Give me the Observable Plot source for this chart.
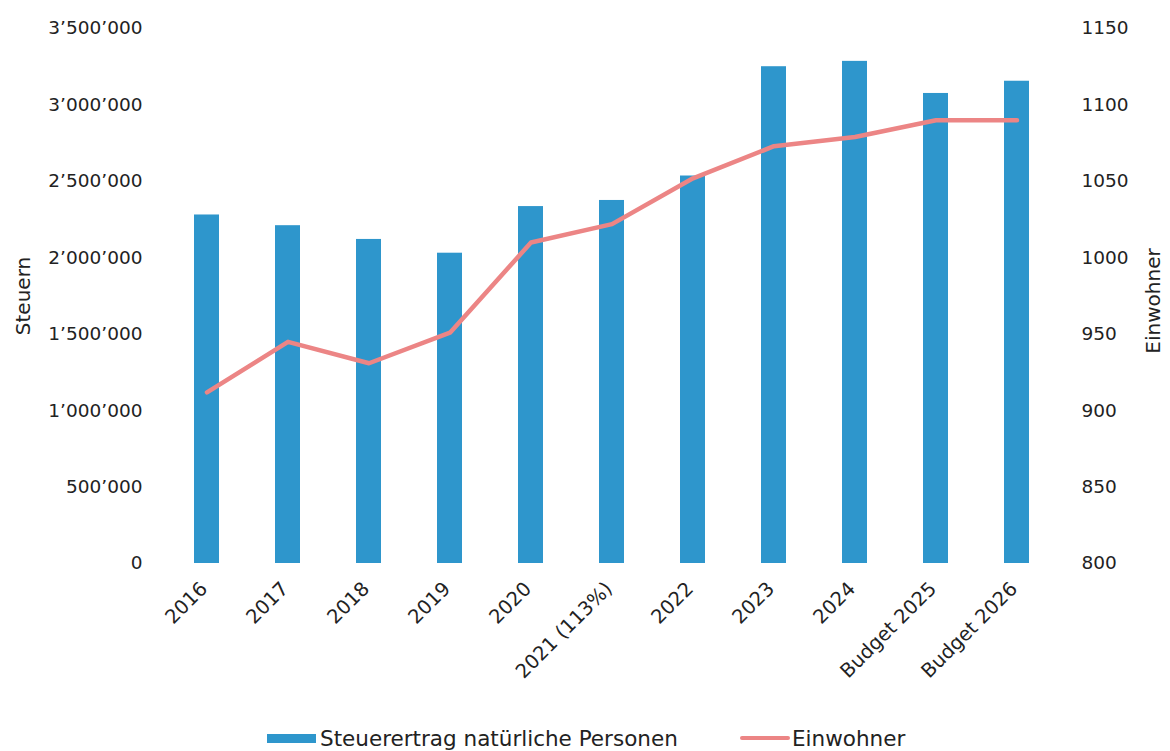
<!DOCTYPE html>
<html>
<head>
<meta charset="utf-8">
<script src="https://cdn.jsdelivr.net/npm/d3@7"></script>
<script src="https://cdn.jsdelivr.net/npm/@observablehq/plot@0.6"></script>
<style>
  html, body { margin: 0; padding: 0; background: #fff; }
  #wrap { position: relative; width: 1170px; height: 751px; font-family: "DejaVu Sans", sans-serif; color: #222; }
  .leg { position: absolute; top: 726px; display: flex; align-items: center; font-size: 21.5px; height: 24px; }
  .sw { display: inline-block; width: 49px; height: 9px; background: #2E96CC; margin-right: 4px; }
  .ln { display: inline-block; width: 50px; height: 4px; background: #EC8585; border-radius: 2px; margin-right: 2px; }
</style>
</head>
<body>
<div id="wrap">
  <div id="chart"></div>
  <div class="leg" style="left:267px"><span class="sw"></span>Steuerertrag natürliche Personen</div>
  <div class="leg" style="left:740px"><span class="ln"></span>Einwohner</div>
</div>
<script>
const categories = ["2016","2017","2018","2019","2020","2021 (113%)","2022","2023","2024","Budget 2025","Budget 2026"];
const steuern = [2280000, 2210000, 2120000, 2030000, 2335000, 2375000, 2535000, 3250000, 3285000, 3075000, 3155000];
const einwohner = [912, 945, 931, 951, 1010, 1022, 1052, 1073, 1079, 1090, 1090];
const steuernTicks = [0, 500000, 1000000, 1500000, 2000000, 2500000, 3000000, 3500000];
const einwohnerTicks = [800, 850, 900, 950, 1000, 1050, 1100, 1150];

const data = categories.map((c, i) => ({cat: c, steuern: steuern[i], ein: einwohner[i]}));

// right axis mapped onto left scale: 800..1150 -> 0..3'500'000
const eMin = 800, eMax = 1150, sMax = 3500000;
const toLeft = v => (v - eMin) / (eMax - eMin) * sMax;
const fromLeft = v => Math.round(v / sMax * (eMax - eMin) + eMin);

const loc = d3.formatLocale({decimal: ".", thousands: "\u2019", grouping: [3], currency: ["", ""]});
const fmt = loc.format(",");

const chart = Plot.plot({
  width: 1170,
  height: 715,
  marginTop: 28,
  marginBottom: 152,
  marginLeft: 164,
  marginRight: 110,
  style: {fontFamily: "DejaVu Sans, sans-serif", fontSize: "18px", color: "#222", background: "#fff"},
  x: {domain: categories, paddingInner: 0.69, paddingOuter: 0.345},
  y: {domain: [0, sMax]},
  marks: [
    Plot.barY(data, {x: "cat", y: "steuern", fill: "#2E96CC"}),
    Plot.lineY(data, {x: "cat", y: d => toLeft(d.ein), stroke: "#EC8585", strokeWidth: 4.5, strokeLinejoin: "round", strokeLinecap: "round"}),
    Plot.axisY(steuernTicks, {anchor: "left", tickSize: 0, tickPadding: 22, tickFormat: fmt, label: null, fontSize: 18.5}),
    Plot.axisY(einwohnerTicks.map(toLeft), {anchor: "right", tickSize: 0, tickPadding: 21, tickFormat: d => String(fromLeft(d)), label: null, fontSize: 18.5}),
    Plot.axisX({tickSize: 0, tickPadding: 22, tickRotate: -45, label: null, fontSize: 19.5, dx: -3}),
    Plot.text(["Steuern"], {text: d => d, frameAnchor: "left", textAnchor: "middle", lineAnchor: "middle", dx: -141, rotate: -90, fontSize: 20, fill: "#222"}),
    Plot.text(["Einwohner"], {text: d => d, frameAnchor: "right", textAnchor: "middle", lineAnchor: "middle", dx: 93, dy: 5, rotate: -90, fontSize: 20, fill: "#222"})
  ]
});
document.getElementById("chart").appendChild(chart);
</script>
</body>
</html>
